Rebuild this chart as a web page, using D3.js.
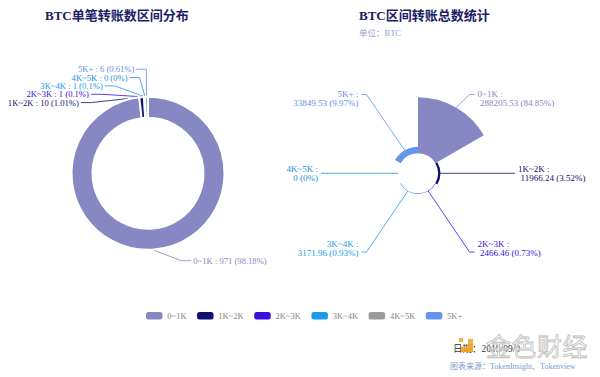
<!DOCTYPE html>
<html><head><meta charset="utf-8">
<script src="https://cdn.jsdelivr.net/npm/d3@7/dist/d3.min.js"></script>
<style>body{margin:0;background:#fff}svg{display:block}</style>
</head><body>
<svg id="c" width="600" height="377"></svg>
<script>
// ---- data ----
const categories = ['0~1K', '1K~2K', '2K~3K', '3K~4K', '4K~5K', '5K+'];
const countValues = [971, 10, 1, 1, 0, 6];
const amountValues = [288205.53, 11966.24, 2466.46, 3171.96, 0, 33849.53];
const leftTitle = 'BTC单笔转账数区间分布';
const rightTitle = 'BTC区间转账总数统计';
const rightSubtitle = '单位：BTC';
const dateText = '日期：2019/09/0';
const sourceText = '图表来源：TokenInsight、Tokenview';
const watermarkText = '金色财经';

// ---- styles ----
const colors = ['#8787c4', '#10106e', '#3a10de', '#1a9be6', '#9a9a9a', '#6495ed'];
const labelColors = ['#8787c4', '#10106e', '#3a10de', '#1a9be6', '#1f8fd8', '#5f90e6'];
const FONT = '"Liberation Serif","Noto Sans CJK SC",serif';

const svg = d3.select('#c');

function pct(vals) {
  const s = d3.sum(vals);
  return vals.map(v => String(+(v / s * 100).toFixed(2)));
}

// simple echarts-like label layout
function layoutSide(list, cx, cy, Rl, len2, h) {
  list.sort((a, b) => a.y0 - b.y0);
  let groups = list.map(d => ({ items: [d] }));
  const center = g => d3.mean(g.items, d => d.y0);
  let merged = true;
  while (merged) {
    merged = false;
    for (let i = 0; i < groups.length - 1; i++) {
      const g = groups[i], n = groups[i + 1];
      const gb = center(g) + (g.items.length - 1) * h / 2;
      const nt = center(n) - (n.items.length - 1) * h / 2;
      if (nt - gb < h) {
        groups.splice(i, 2, { items: g.items.concat(n.items) });
        merged = true; break;
      }
    }
  }
  groups.forEach(g => {
    const c = center(g);
    g.items.forEach((d, k) => { d.y = c - (g.items.length - 1) * h / 2 + k * h; });
  });
  list.forEach(d => {
    const dy = Math.abs(d.y - cy);
    d.xEnd = dy < Rl ? cx + d.dir * Math.sqrt(Rl * Rl - dy * dy) : d.ax + d.dir * len2;
    d.xElbow = d.xEnd - d.dir * len2;
  });
}

// ---- titles ----
svg.append('text').attr('x', 45).attr('y', 19.5).text(leftTitle)
  .attr('font-family', FONT).attr('font-weight', 'bold').attr('font-size', 13).attr('fill', '#1c1c68');
svg.append('text').attr('x', 359).attr('y', 19.5).text(rightTitle)
  .attr('font-family', FONT).attr('font-weight', 'bold').attr('font-size', 13).attr('fill', '#1c1c68');
svg.append('text').attr('x', 359).attr('y', 36).text(rightSubtitle)
  .attr('font-family', FONT).attr('font-size', 8.5).attr('fill', '#8fa3cc');

// ---- left donut ----
{
  const cx = 148, cy = 173.3, r0 = 55.5, r = 76.5, len1 = 11, len2 = 10;
  const perc = pct(countValues);
  const pie = d3.pie().sort(null).value(d => d)(countValues);
  const arc = d3.arc().innerRadius(r0).outerRadius(r);
  const g = svg.append('g');
  const labels = pie.map((p, i) => {
    const a = (p.startAngle + p.endAngle) / 2;
    const s = Math.sin(a), c = Math.cos(a);
    return {
      i, a, dir: s < 0 ? -1 : 1,
      sx: cx + r * s, sy: cy - r * c,
      ax: cx + (r + len1) * s, y0: cy - (r + len1) * c,
      text: `${categories[i]} : ${countValues[i]} (${perc[i]}%)`
    };
  });
  const Rl = r + len1 + len2;
  layoutSide(labels.filter(d => d.dir < 0), cx, cy, Rl, len2, 8.35);
  layoutSide(labels.filter(d => d.dir > 0), cx, cy, Rl, len2, 8.35);
  const lineGen = d3.line();
  g.selectAll('path.ll').data(labels).join('path').attr('class', 'll')
    .attr('d', d => lineGen([[d.sx, d.sy], [d.xElbow, d.y], [d.xEnd, d.y]]))
    .attr('fill', 'none').attr('stroke', d => labelColors[d.i]).attr('stroke-width', 0.8);
  g.selectAll('path.sl').data(pie).join('path').attr('class', 'sl')
    .attr('transform', `translate(${cx},${cy})`)
    .attr('d', arc).attr('fill', (d, i) => colors[i]).attr('stroke', '#fff').attr('stroke-width', 2);
  g.selectAll('text.lt').data(labels).join('text').attr('class', 'lt')
    .attr('x', d => d.xEnd + d.dir * 2).attr('y', d => d.y)
    .attr('dy', '0.35em').attr('text-anchor', d => d.dir < 0 ? 'end' : 'start')
    .attr('font-family', FONT).attr('font-size', 8.6).attr('fill', d => labelColors[d.i])
    .text(d => d.text);
}

// ---- right rose ----
{
  const cx = 418, cy = 173.3, r0 = 20, rMax = 76, Ra = 91, Rt = 86.5, len2 = 5, Rl = 97;
  const perc = pct(amountValues);
  const pie = d3.pie().sort(null).value(() => 1)(amountValues);
  const rScale = d3.scaleLinear().domain(d3.extent(amountValues)).range([r0, rMax]);
  const g = svg.append('g');
  g.selectAll('path.sl').data(pie).join('path').attr('class', 'sl')
    .attr('transform', `translate(${cx},${cy})`)
    .attr('d', d => d3.arc().innerRadius(r0).outerRadius(rScale(d.data))(d))
    .attr('fill', (d, i) => colors[i]);
  const labels = pie.map((p, i) => {
    const a = (p.startAngle + p.endAngle) / 2;
    const s = Math.sin(a), c = Math.cos(a);
    const rr = rScale(p.data);
    return {
      i, a, dir: s < -1e-6 ? -1 : 1,
      sx: cx + rr * s, sy: cy - rr * c,
      ax: cx + Ra * s, y0: cy - Ra * c, ty: cy - Rt * c,
      l1: `${categories[i]} :`, l2: `${amountValues[i]} (${perc[i]}%)`
    };
  });
  layoutSide(labels.filter(d => d.dir < 0), cx, cy, Rl, len2, 19);
  layoutSide(labels.filter(d => d.dir > 0), cx, cy, Rl, len2, 19);
  const lineGen = d3.line();
  g.selectAll('path.ll').data(labels).join('path').attr('class', 'll')
    .attr('d', d => lineGen([[d.sx, d.sy], [d.xElbow, d.y], [d.xEnd, d.y]]))
    .attr('fill', 'none').attr('stroke', d => labelColors[d.i]).attr('stroke-width', 0.8);
  const t = g.selectAll('g.lt').data(labels).join('g').attr('class', 'lt')
    .attr('font-family', FONT).attr('font-size', 9).attr('fill', d => labelColors[d.i])
    .attr('text-anchor', d => d.dir < 0 ? 'end' : 'start');
  t.append('text').attr('x', d => d.xEnd + d.dir * 3).attr('y', d => d.ty - 4.7).attr('dy', '0.35em').text(d => d.l1);
  t.append('text').attr('x', d => d.xEnd + d.dir * 3 + (d.dir > 0 ? 2.5 : 0)).attr('y', d => d.ty + 4.7).attr('dy', '0.35em').text(d => d.l2);
}

// ---- legend ----
{
  const legendColors = ['#8787c4', '#10106e', '#3a10de', '#1a9be6', '#9a9a9a', '#6495ed'];
  const lg = svg.append('g').attr('font-family', FONT).attr('font-size', 8.5);
  let x = 146;
  categories.forEach((c, i) => {
    lg.append('rect').attr('x', x).attr('y', 312).attr('width', 16.5).attr('height', 7.5)
      .attr('rx', 2.5).attr('fill', legendColors[i]);
    const tx = lg.append('text').attr('x', x + 21.3).attr('y', 315.8).attr('dy', '0.35em')
      .attr('fill', '#858585').text(c);
    x += 21.3 + tx.node().getComputedTextLength() + 10.5;
  });
}

// ---- footer ----
svg.append('text').attr('x', 453).attr('y', 351.5).text(dateText)
  .attr('font-family', FONT).attr('font-size', 9.5).attr('fill', '#333');
svg.append('text').attr('x', 450).attr('y', 369).text(sourceText)
  .attr('font-family', FONT).attr('font-size', 8).attr('fill', '#7d9bd0');
// watermark
{
  const w = svg.append('g');
  w.append('rect').attr('x', 468).attr('y', 339).attr('width', 5).attr('height', 13).attr('fill', '#f5a623').attr('opacity', 0.9);
  w.append('rect').attr('x', 461).attr('y', 347).attr('width', 12).attr('height', 5).attr('fill', '#f5a623').attr('opacity', 0.9);
  w.append('rect').attr('x', 459).attr('y', 338).attr('width', 4).attr('height', 4).attr('fill', '#f5a623').attr('opacity', 0.9);
  w.append('text').attr('x', 486).attr('y', 356).text(watermarkText)
    .attr('font-family', '"Noto Sans CJK SC",sans-serif').attr('font-size', 25)
    .attr('fill', '#ffffff').attr('fill-opacity', 0.75).attr('stroke', '#bdbdbd').attr('stroke-width', 0.8)
    .attr('letter-spacing', 0.5);
}
</script>
</body></html>
